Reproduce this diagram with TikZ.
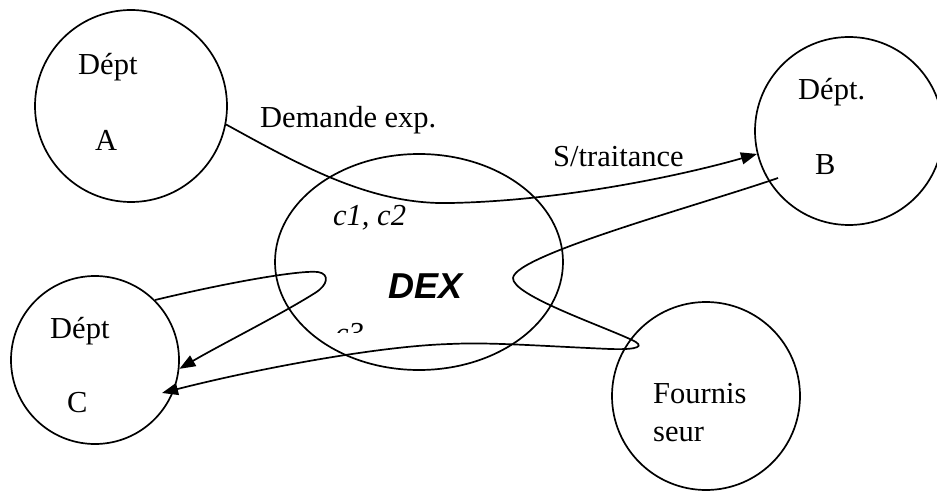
\documentclass[tikz,border=0pt]{standalone}
\usepackage{fontspec}
\setmainfont{Liberation Serif}
\newfontfamily\dexfont{Liberation Sans}
\usetikzlibrary{shapes.geometric,arrows.meta}
\begin{document}
\begin{tikzpicture}[x=1pt,y=-1pt,
  bubble/.style={draw,circle,line width=1.7pt,inner sep=0pt},
  lbl/.style={anchor=base west,inner sep=0pt,font=\fontsize{30.5}{35}\selectfont},
  conn/.style={line width=1.7pt},
  arr/.style={conn,-{Triangle[length=16pt,width=12pt]}}]
\useasboundingbox (0,0) rectangle (937,492);
% bubbles
\node[bubble,minimum size=192pt] (A) at (131,106) {};
\node[bubble,minimum size=188pt] (B) at (849,131) {};
\node[bubble,minimum size=168pt] (C) at (95,360) {};
\node[bubble,minimum size=188pt] (F) at (706,396) {};
\node[draw,ellipse,line width=1.7pt,inner sep=0pt,minimum width=288pt,minimum height=216pt] (D) at (419,262) {};
% texts
\node[lbl] (tA1) at (78,75) {Dépt};
\node[lbl] (tA2) at (95,150) {A};
\node[lbl] (tB1) at (798,100) {Dépt.};
\node[lbl] (tB2) at (815,175) {B};
\node[lbl] (tC1) at (50,338) {Dépt};
\node[lbl] (tC2) at (67,412) {C};
\node[lbl] (tF1) at (653,403) {Fournis};
\node[lbl] (tF2) at (653,441) {seur};
\node[lbl] (tDem) at (260,128) {Demande exp.};
\node[lbl] (tSt) at (553,166) {S/traitance};
\node[lbl] (tc12) at (333,225) {\itshape c1, c2};
\node[lbl,font=\dexfont\bfseries\itshape\fontsize{36}{40}\selectfont] (tDEX) at (388,298) {DEX};
\begin{scope}
\clip (300,300) rectangle (420,332);
\node[lbl] (tc3) at (335,343) {\itshape c3};
\end{scope}
% connectors
\coordinate (bs) at (778,178);
\coordinate (ce) at (162,393);
\draw[arr] (A.-11) .. controls (300,165) and (370,205) .. (450,203)
  .. controls (560,201) and (680,176) .. (B.194);
\draw[arr] (bs) .. controls (700,205) and (515,255) .. (513,278)
  .. controls (512,295) and (600,325) .. (632,340)
  .. controls (645,346) and (640,350) .. (610,349)
  .. controls (540,346) and (490,342) .. (450,344)
  .. controls (380,346) and (260,368) .. (ce);
\draw[arr] (C.45) .. controls (230,282) and (300,270) .. (318,272)
  .. controls (330,274) and (328,285) .. (315,293)
  .. controls (280,315) and (220,345) .. (C.-6);
\end{tikzpicture}
\end{document}
